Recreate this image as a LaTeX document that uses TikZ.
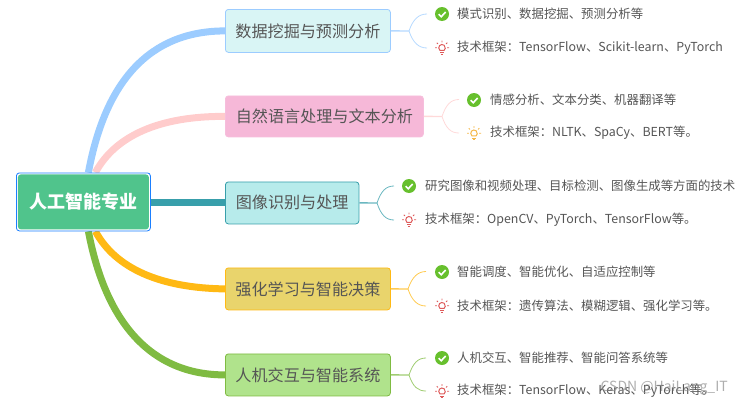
\documentclass[tikz,border=0pt]{standalone}
\usepackage{fontspec}
\setmainfont{Noto Sans CJK SC}
\usetikzlibrary{backgrounds}
\definecolor{txt}{HTML}{555555}
\definecolor{cBlue}{HTML}{9CCCFF}
\definecolor{cPink}{HTML}{FFCCCC}
\definecolor{cTeal}{HTML}{389FAB}
\definecolor{cYel}{HTML}{FFB914}
\definecolor{cGrn}{HTML}{7FBB42}
\definecolor{okG}{HTML}{67C02D}
\definecolor{bulbR}{HTML}{DE5B5B}
\definecolor{bulbY}{HTML}{F5B84A}
\tikzset{
  x=1pt,y=-1pt,
  branch/.style={rectangle,rounded corners=3pt,line width=.8pt,text=txt,font=\fontsize{16.1}{18}\selectfont,inner sep=0pt,anchor=north west},
  leaf/.style={anchor=west,inner sep=0pt,text=txt,font=\fontsize{12.4}{14}\selectfont},
  main/.style={line width=7pt},
  stem/.style={line width=1.4pt},
  twig/.style={line width=.8pt},
  okicon/.pic={
    \fill[okG] (0,0) circle (7);
    \draw[white,line width=1.6pt] (-3.4,.2) -- (-.8,2.8) -- (3.6,-2);
  },
  bulb/.pic={
    \draw[pic actions,line width=1pt] (-2.1,2.8) arc[start angle=130,end angle=410,radius=3.3] -- cycle;
    \draw[pic actions,line width=1pt] (-1.8,5) -- (1.8,5) (-1.1,6.8) -- (1.1,6.8);
    \draw[pic actions,line width=.9pt] (0,-7) -- (0,-5.2) (-5.2,-4.8) -- (-4,-3.6) (5.2,-4.8) -- (4,-3.6) (-7,.2) -- (-5.2,.2) (7,.2) -- (5.2,.2);
  }
}
\begin{document}
\begin{tikzpicture}
\useasboundingbox (0,0) rectangle (742,407);
% root
\node[rectangle,rounded corners=3pt,draw={rgb,255:red,26;green,127;blue,255},line width=.8pt,fill=white,minimum width=134pt,minimum height=58pt,inner sep=0pt,anchor=north west] (rootframe) at (16,172.5) {};
\node[rectangle,rounded corners=3pt,fill={rgb,255:red,80;green,196;blue,140},minimum width=131pt,minimum height=55pt,inner sep=0pt,text=white,font=\fontsize{18}{20}\selectfont\bfseries] (root) at (rootframe.center) {\raisebox{-.6pt}{人工智能专业}};
% branches
\node[branch,draw=cBlue,fill={rgb,255:red,217;green,245;blue,245},minimum width=165pt,minimum height=43pt] (b1) at (225,9) {\raisebox{-.8pt}{数据挖掘与预测分析}};
\node[branch,draw={rgb,255:red,246;green,190;blue,220},fill={rgb,255:red,246;green,184;blue,216},minimum width=198pt,minimum height=41pt] (b2) at (225,95.5) {\raisebox{-.8pt}{自然语言处理与文本分析}};
\node[branch,draw=cTeal,fill={rgb,255:red,183;green,235;blue,235},minimum width=133.5pt,minimum height=42pt] (b3) at (225,181.5) {\raisebox{-.8pt}{图像识别与处理}};
\node[branch,draw=cYel,fill={rgb,255:red,233;green,212;blue,108},minimum width=165pt,minimum height=42pt] (b4) at (225,267.5) {\raisebox{-.8pt}{强化学习与智能决策}};
\node[branch,draw=cGrn,fill={rgb,255:red,176;green,227;blue,140},minimum width=165pt,minimum height=42pt] (b5) at (225,353.5) {\raisebox{-.8pt}{人机交互与智能系统}};
% leaves
\node[leaf] (l1a) at (457,14) {模式识别、数据挖掘、预测分析等};
\node[leaf] (l1b) at (457,48) {技术框架：TensorFlow、Scikit-learn、PyTorch};
\node[leaf] (l2a) at (490,100) {情感分析、文本分类、机器翻译等};
\node[leaf] (l2b) at (490,133) {技术框架：NLTK、SpaCy、BERT等。};
\node[leaf] (l3a) at (425,186) {研究图像和视频处理、目标检测、图像生成等方面的技术};
\node[leaf] (l3b) at (425,220) {技术框架：OpenCV、PyTorch、TensorFlow等。};
\node[leaf] (l4a) at (457,272) {智能调度、智能优化、自适应控制等};
\node[leaf] (l4b) at (457,306) {技术框架：遗传算法、模糊逻辑、强化学习等。};
\node[leaf] (l5a) at (457,358) {人机交互、智能推荐、智能问答系统等};
\node[leaf] (l5b) at (457,391) {技术框架：TensorFlow、Keras、PyTorch等。};
% icons
\pic at (442,14) {okicon}; \pic[bulbR] at (442,47.5) {bulb};
\pic at (474,100) {okicon}; \pic[bulbY] at (474,133) {bulb};
\pic at (409,186) {okicon}; \pic[bulbR] at (409,219.5) {bulb};
\pic at (442,272) {okicon}; \pic[bulbR] at (442,305.5) {bulb};
\pic at (442,358) {okicon}; \pic[bulbR] at (442,391) {bulb};
% fork points and free ends
\coordinate (f1) at (409,31);  \coordinate (e1a) at (427,14);  \coordinate (e1b) at (427,48);
\coordinate (f2) at (442,116.5); \coordinate (e2a) at (459,99.5);\coordinate (e2b) at (459,133);
\coordinate (f3) at (377,203); \coordinate (e3a) at (394,186); \coordinate (e3b) at (394,220);
\coordinate (f4) at (408,289); \coordinate (e4a) at (426,271.5); \coordinate (e4b) at (426,306);
\coordinate (f5) at (409,375); \coordinate (e5a) at (426,358); \coordinate (e5b) at (426,391);
\begin{pgfonlayer}{background}
\draw[main,cBlue] ([xshift=5pt]rootframe.north) .. controls +(17,-92) and (150,31) .. (b1.west);
\draw[main,cPink] ([xshift=12pt]rootframe.north) .. controls +(20,-37) and (160,116) .. (b2.west);
\draw[main,cTeal] (rootframe.east |- b3.west) -- (b3.west);
\draw[main,cYel] ([xshift=12pt]rootframe.south) .. controls +(20,37) and (160,288) .. (b4.west);
\draw[main,cGrn] ([xshift=5pt]rootframe.south) .. controls +(17,90) and (150,375) .. (b5.west);
\end{pgfonlayer}
\foreach \n/\c in {1/cBlue,2/cPink,3/cTeal,4/cYel,5/cGrn}{
  \draw[stem,\c!75!white] (b\n.east) -- (f\n);
  \draw[twig,\c!75!white] (f\n) .. controls +(4,-12) and +(-8,0) .. (e\n a);
  \draw[twig,\c!75!white] (f\n) .. controls +(4,12) and +(-8,0) .. (e\n b);
}
% watermark
\node[anchor=east,inner sep=0pt,text=black!45,opacity=.7,font=\fontsize{14}{16}\selectfont] (wm) at (728,388) {CSDN @HaiLang\_IT};
\end{tikzpicture}
\end{document}
